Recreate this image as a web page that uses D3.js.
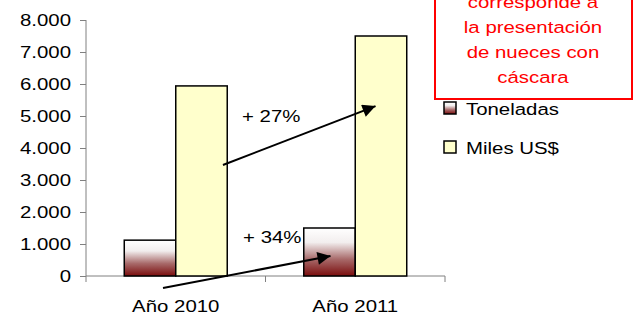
<!DOCTYPE html>
<html>
<head>
<meta charset="utf-8">
<script src="https://cdn.jsdelivr.net/npm/d3@7"></script>
<style>
  body { margin: 0; background: #fff; }
  text { font-family: "Liberation Sans", Arial, sans-serif; }
</style>
</head>
<body>
<div id="chart"></div>
<script>
// data
var categories = ["Año 2010", "Año 2011"];
var seriesNames = ["Toneladas", "Miles US$"];
var toneladas = [1120, 1500];
var milesUS = [5940, 7500];
var yTicks = [0, 1000, 2000, 3000, 4000, 5000, 6000, 7000, 8000];
var noteLines = ["corresponde a", "la presentación", "de nueces con", "cáscara"];

// arrows: band position (cat + fraction of band) and value
var arrows = [
  { from: ["Año 2010", 0.763, 3470], to: ["Año 2011", 0.613, 5310] },
  { from: ["Año 2010", 0.429, -375], to: ["Año 2011", 0.362, 625] }
];
var arrowLabels = [
  { text: "+ 27%", cat: "Año 2010", frac: 0.869, value: 4810 },
  { text: "+ 34%", cat: "Año 2010", frac: 0.875, value: 1030 }
];

var width = 637, height = 317;
var stretch = 1.2; // text in the picture is wider than normal

var svg = d3.select("#chart").append("svg")
  .attr("width", width)
  .attr("height", height);

var defs = svg.append("defs");
var grad = defs.append("linearGradient")
  .attr("id", "tonGrad")
  .attr("x1", 0).attr("y1", 0).attr("x2", 0).attr("y2", 1);
grad.append("stop").attr("offset", "0%").attr("stop-color", "#ffffff");
grad.append("stop").attr("offset", "30%").attr("stop-color", "#f2eeee");
grad.append("stop").attr("offset", "65%").attr("stop-color", "#a86a6a");
grad.append("stop").attr("offset", "100%").attr("stop-color", "#7a0c0c");

defs.append("marker")
  .attr("id", "head")
  .attr("viewBox", "0 0 10 10")
  .attr("refX", 10).attr("refY", 5)
  .attr("markerUnits", "userSpaceOnUse")
  .attr("markerWidth", 17).attr("markerHeight", 13)
  .attr("orient", "auto")
  .append("path")
  .attr("d", "M0,0 L10,5 L0,10 Z")
  .attr("fill", "#000");

var x0 = d3.scaleBand().domain(categories).range([86, 445]).padding(0);
var x1 = d3.scaleBand().domain(seriesNames).range([0, x0.bandwidth()])
  .paddingInner(0).paddingOuter(0.743);
var y = d3.scaleLinear().domain([0, 8000]).range([276, 20]);

var fills = { "Toneladas": "url(#tonGrad)", "Miles US$": "#ffffcc" };
var fmt = d3.format(",.0f");
function label(v) { return fmt(v).replace(/,/g, "."); }

// y axis
var yAxis = svg.append("g")
  .attr("transform", "translate(86,0)")
  .call(d3.axisLeft(y).tickValues(yTicks).tickSize(6).tickPadding(9).tickFormat(label));
yAxis.selectAll("path, line").attr("stroke", "#808080");
yAxis.select(".domain").attr("d", "M0," + y(8000) + "V" + y(0));

// x axis line + boundary ticks
svg.append("line")
  .attr("x1", x0.range()[0]).attr("x2", x0.range()[1])
  .attr("y1", y(0)).attr("y2", y(0))
  .attr("stroke", "#808080");
var bounds = [x0(categories[0])].concat(categories.map(function(c) { return x0(c) + x0.bandwidth(); }));
svg.selectAll(".xtick").data(bounds).enter().append("line")
  .attr("x1", function(d) { return d; }).attr("x2", function(d) { return d; })
  .attr("y1", y(0)).attr("y2", y(0) + 6)
  .attr("stroke", "#808080");

var xAxis = svg.append("g")
  .attr("transform", "translate(0," + y(0) + ")")
  .call(d3.axisBottom(x0).tickSize(0).tickPadding(24));
xAxis.select(".domain").remove();

svg.selectAll(".tick text")
  .attr("font-size", 17)
  .attr("fill", "#000")
  .attr("font-family", "Liberation Sans, Arial, sans-serif");

// bars
var rows = categories.map(function(c, i) {
  return { cat: c, vals: [{ s: "Toneladas", v: toneladas[i] }, { s: "Miles US$", v: milesUS[i] }] };
});
var groups = svg.selectAll(".grp").data(rows).enter().append("g")
  .attr("transform", function(d) { return "translate(" + x0(d.cat) + ",0)"; });
groups.selectAll("rect").data(function(d) { return d.vals; }).enter().append("rect")
  .attr("x", function(d) { return x1(d.s); })
  .attr("y", function(d) { return y(d.v); })
  .attr("width", x1.bandwidth())
  .attr("height", function(d) { return y(0) - y(d.v); })
  .attr("fill", function(d) { return fills[d.s]; })
  .attr("stroke", "#000")
  .attr("stroke-width", 1.5);

// arrows
function px(p) { return x0(p[0]) + p[1] * x0.bandwidth(); }
svg.selectAll(".arrow").data(arrows).enter().append("line")
  .attr("x1", function(d) { return px(d.from); })
  .attr("y1", function(d) { return y(d.from[2]); })
  .attr("x2", function(d) { return px(d.to); })
  .attr("y2", function(d) { return y(d.to[2]); })
  .attr("stroke", "#000")
  .attr("stroke-width", 2)
  .attr("marker-end", "url(#head)");

svg.selectAll(".alab").data(arrowLabels).enter().append("text")
  .attr("x", function(d) { return x0(d.cat) + d.frac * x0.bandwidth(); })
  .attr("y", function(d) { return y(d.value); })
  .attr("font-size", 17)
  .text(function(d) { return d.text; });

// legend
var legend = svg.selectAll(".leg").data(seriesNames).enter().append("g")
  .attr("transform", function(d, i) { return "translate(444," + (102 + i * 39) + ")"; });
legend.append("rect")
  .attr("width", 12).attr("height", 12)
  .attr("fill", function(d) { return fills[d]; })
  .attr("stroke", "#000").attr("stroke-width", 1.5);
legend.append("text")
  .attr("x", 22).attr("y", 13)
  .attr("font-size", 17)
  .text(function(d) { return d; });

// red note box
svg.append("rect")
  .attr("x", 435).attr("y", -5)
  .attr("width", 197).attr("height", 104)
  .attr("fill", "#fff")
  .attr("stroke", "#ff0000").attr("stroke-width", 2);
svg.selectAll(".note").data(noteLines).enter().append("text")
  .attr("x", 533)
  .attr("y", function(d, i) { return 8 + i * 25; })
  .attr("text-anchor", "middle")
  .attr("font-size", 17)
  .attr("fill", "#ff0000")
  .text(function(d) { return d; });

// widen all text like the picture (scale around its anchor x)
svg.selectAll("text").each(function() {
  var ax = +this.getAttribute("x") || 0;
  d3.select(this).attr("transform",
    "translate(" + ax + ",0) scale(" + stretch + ",1) translate(" + (-ax) + ",0)");
});
</script>
</body>
</html>
